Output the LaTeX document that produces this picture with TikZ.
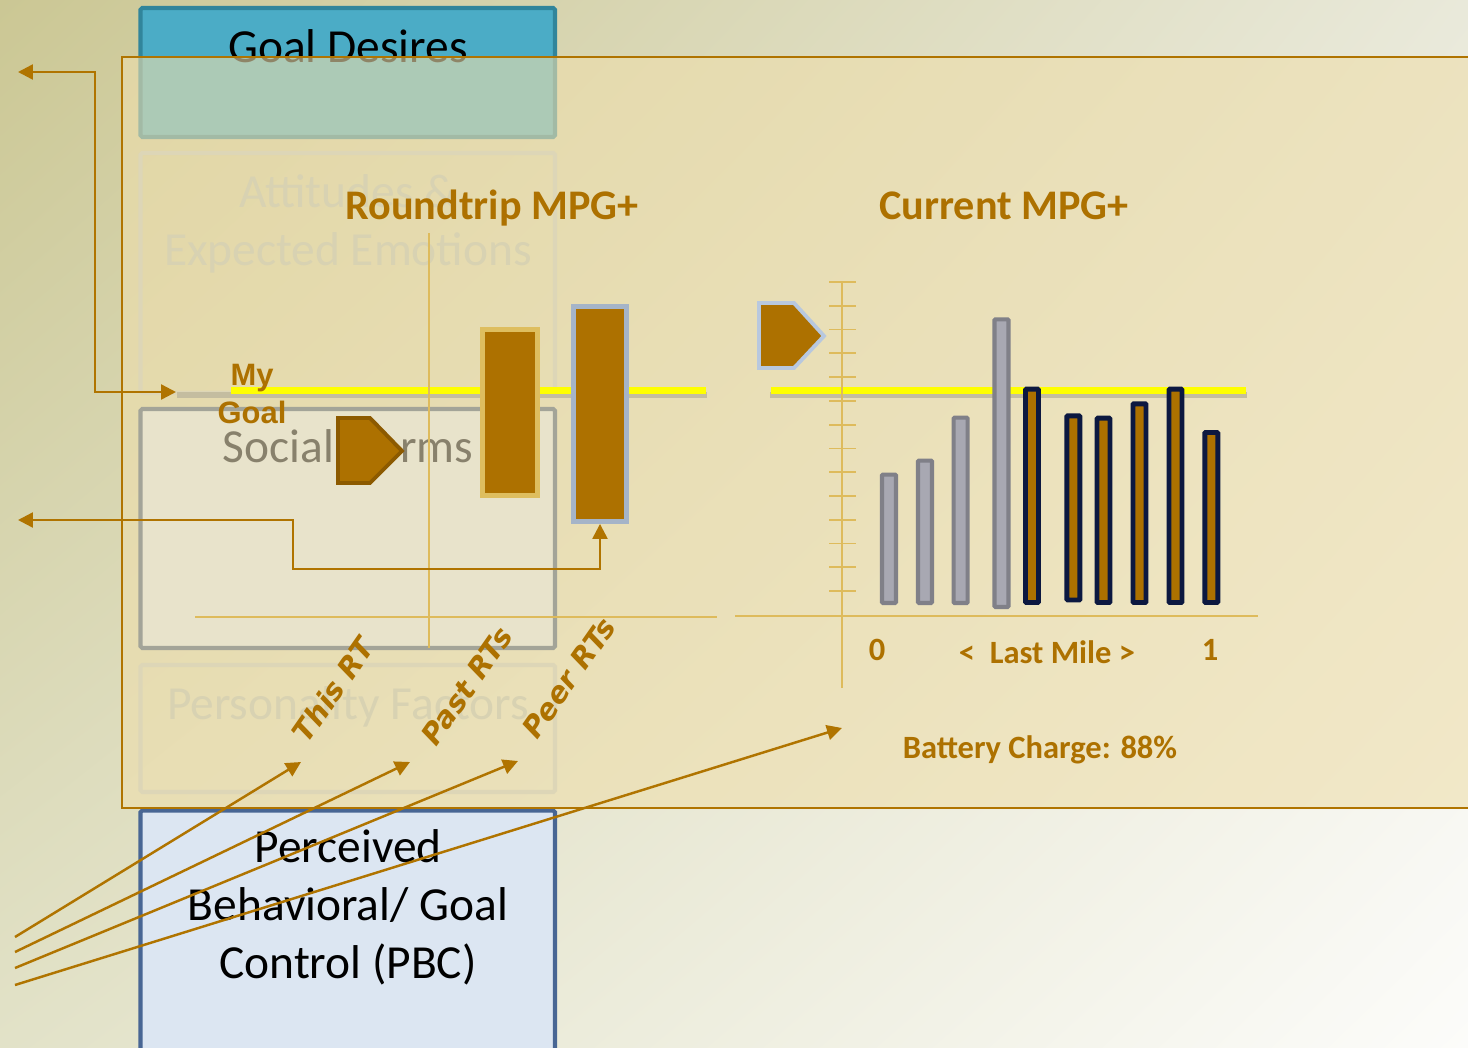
\documentclass[tikz,border=0pt]{standalone}
\usepackage{fontspec}
\setmainfont{Carlito}
\newfontfamily\goalfont{Liberation Sans}
\newfontfamily\rtfont{DejaVu Sans}[BoldItalicFont={DejaVu Sans Bold Oblique}]
\usepackage{xcolor}
\usepackage{tikz}
\usetikzlibrary{arrows.meta, positioning, shadings}

\definecolor{bgul}{RGB}{203,199,148}
\definecolor{bgur}{RGB}{233,233,218}
\definecolor{bgll}{RGB}{226,226,200}
\definecolor{bglr}{RGB}{252,252,250}
\definecolor{mpgorange}{RGB}{173,113,0}
\definecolor{linkorange}{RGB}{176,116,0}
\definecolor{panelfill}{RGB}{238,222,172}
\definecolor{axisgold}{RGB}{222,187,92}
\definecolor{desireblue}{RGB}{75,172,198}
\definecolor{desireedge}{RGB}{49,133,155}
\definecolor{pbcfill}{RGB}{220,230,242}
\definecolor{pbcedge}{RGB}{72,102,148}
\definecolor{fadeedge}{RGB}{221,214,183}
\definecolor{fadetext}{RGB}{216,210,178}
\definecolor{normedge}{RGB}{163,164,152}
\definecolor{normfill}{RGB}{232,227,203}
\definecolor{normtext}{RGB}{136,129,108}
\definecolor{goalyellow}{RGB}{255,255,0}
\definecolor{goalshadow}{RGB}{196,189,160}
\definecolor{barnavy}{RGB}{12,24,64}
\definecolor{bargray}{RGB}{168,168,178}
\definecolor{baredge}{RGB}{128,128,136}
\definecolor{rtgold}{RGB}{222,190,95}
\definecolor{rtblue}{RGB}{165,180,200}
\definecolor{tagblue}{RGB}{184,200,222}
\definecolor{tagedge}{RGB}{140,90,0}

\tikzstyle{slidebox} = [draw, line width=2.3pt, rounded corners=1pt]
\tikzstyle{boxtext} = [font=\fontsize{27}{32.9}\selectfont, align=center, inner sep=0pt]
\tikzstyle{title} = [font=\fontsize{24}{28}\selectfont\bfseries, text=mpgorange, inner sep=0pt]
\tikzstyle{chartlabel} = [font=\fontsize{18.5}{22}\selectfont\bfseries, text=mpgorange, inner sep=0pt]
\tikzstyle{rtlabel} = [font=\rtfont\bfseries\itshape\fontsize{16.5}{20}\selectfont, text=mpgorange, rotate=55, inner sep=0pt]
\tikzstyle{arrow} = [line width=1.4pt, draw=linkorange, >={Triangle[length=3mm,width=3mm]}]
\tikzstyle{axis} = [draw=axisgold, line width=1pt]
\tikzstyle{goalline} = [draw=goalyellow, line width=4pt]
\tikzstyle{goalshade} = [draw=goalshadow, line width=3.4pt]
\tikzstyle{tag} = [fill=mpgorange, line width=2.2pt]
\tikzstyle{rtbar} = [fill=mpgorange, line width=2.8pt, inner sep=0pt]
\tikzstyle{milebar} = [fill=mpgorange, draw=barnavy, line width=2.8pt, rounded corners=0.5pt]
\tikzstyle{oldbar} = [fill=bargray, draw=baredge, line width=2.3pt, rounded corners=0.5pt]

\begin{document}
\begin{tikzpicture}[x=0.02cm, y=-0.02cm]
	\useasboundingbox (0,0) rectangle (1468,1048);
	\clip (0,0) rectangle (1468,1048);
	\shade[upper left=bgul, upper right=bgur, lower left=bgll, lower right=bglr] (0,0) rectangle (1468,1048);

	% model boxes under the panel
	\draw[slidebox, draw=desireedge, fill=desireblue] (140.5,8) rectangle (555,137);
	\node (desires) [boxtext, anchor=base] at (348,62) {Goal Desires};
	\draw[slidebox, draw=pbcedge, fill=pbcfill] (140.5,810.5) rectangle (555,1060);
	\node (pbc) [boxtext, anchor=base] at (348,978) {Perceived\\Behavioral/ Goal\\Control (PBC)};

	% dashboard panel
	\draw[draw=linkorange, line width=1.1pt, fill=panelfill, fill opacity=0.6] (122,57) rectangle (1480,808);

	\draw[slidebox, draw=fadeedge] (140.5,153) rectangle (555,393);
	\node (attitudes) [boxtext, text=fadetext, anchor=base] at (348,265) {Attitudes \&\\Expected Emotions};
	\draw[slidebox, draw=normedge, fill=normfill] (140.5,409) rectangle (555,648);
	\node (norms) [boxtext, text=normtext, anchor=base] at (348,462) {Social Norms};
	\draw[slidebox, draw=fadeedge] (140.5,665) rectangle (555,792);
	\node (personality) [boxtext, text=fadetext, anchor=base] at (348,719) {Personality Factors};

	% roundtrip chart
	\node (rttitle) [title, anchor=base] at (492,219) {Roundtrip MPG+};
	\draw[goalshade] (177,395) -- (707,395);
	\draw[goalline] (231,390.5) -- (706,390.5);
	\draw[axis] (429,233) -- (429,648);
	\draw[axis] (195,617) -- (717,617);
	\node (mygoal) [align=center, inner sep=0pt, text=mpgorange, font=\goalfont\bfseries\fontsize{17.6}{21.5}\selectfont] at (252,394) {My\\Goal};
	\draw[tag, draw=tagedge] (338,418) -- (370,418) -- (402,451) -- (370,483) -- (338,483) -- cycle;
	\node (pastbar) [rtbar, draw=rtgold, minimum width=1.1cm, minimum height=3.32cm] at (510,412.5) {};
	\node (peerbar) [rtbar, draw=rtblue, minimum width=1.06cm, minimum height=4.3cm] at (600,414) {};
	\node (thisrt) [rtlabel] at (333,690) {This RT};
	\node (pastrt) [rtlabel] at (467,686) {Past RTs};
	\node (peerrt) [rtlabel] at (569,678) {Peer RTs};

	% current chart
	\node (curtitle) [title, anchor=base] at (1004,219) {Current MPG+};
	\draw[goalshade] (770,395) -- (1247,395);
	\draw[goalline] (771,390.5) -- (1246,390.5);
	\draw[axis] (842,281) -- (842,688);
	\foreach \k in {0,...,13}
		\draw[axis] (829,282+23.78*\k) -- (856,282+23.78*\k);
	\draw[axis] (735,616) -- (1258,616);
	\draw[tag, draw=tagblue] (759,303) -- (794,303) -- (824,336) -- (794,368) -- (759,368) -- cycle;
	\foreach \x/\t/\b in {889/474.7/603, 925/460.7/603, 960.7/417.7/603, 1001.5/319.3/607}
		\draw[oldbar] (\x-7,\t) rectangle (\x+7,\b);
	\foreach \x/\t/\b in {1032/389.2/602.5, 1073.4/415.8/600, 1103.5/418.2/602.5, 1139.5/403.8/602.5, 1175.5/389.2/602.5, 1211.3/432.5/602.5}
		\draw[milebar] (\x-6.5,\t) rectangle (\x+6.5,\b);
	\node (zero) [chartlabel] at (877,650) {0};
	\node (lastmile) [chartlabel] at (1047,652) {<\ \ Last Mile >};
	\node (one) [chartlabel] at (1210,650) {1};
	\node (battery) [chartlabel] at (1040,750) {Battery Charge: 88\%};

	% links
	\coordinate (goalout) at (18,72);
	\coordinate (goalin) at (176,392);
	\coordinate (normsout) at (18,520);
	\draw[arrow, <->] (goalout) -| (95,392) -- (goalin);
	\draw[arrow, <->] (normsout) -- (293,520) -- (293,569) -| (peerbar.south);
	\coordinate (src1) at (15,937);
	\coordinate (src2) at (15,952);
	\coordinate (src3) at (15,968);
	\coordinate (src4) at (15,985);
	\coordinate (tip1) at (301,762);
	\coordinate (tip2) at (410,762);
	\coordinate (tip3) at (518,761);
	\coordinate (tip4) at (842,728);
	\draw[arrow, ->] (src1) -- (tip1);
	\draw[arrow, ->] (src2) -- (tip2);
	\draw[arrow, ->] (src3) -- (tip3);
	\draw[arrow, ->] (src4) -- (tip4);

\end{tikzpicture}
\end{document}
